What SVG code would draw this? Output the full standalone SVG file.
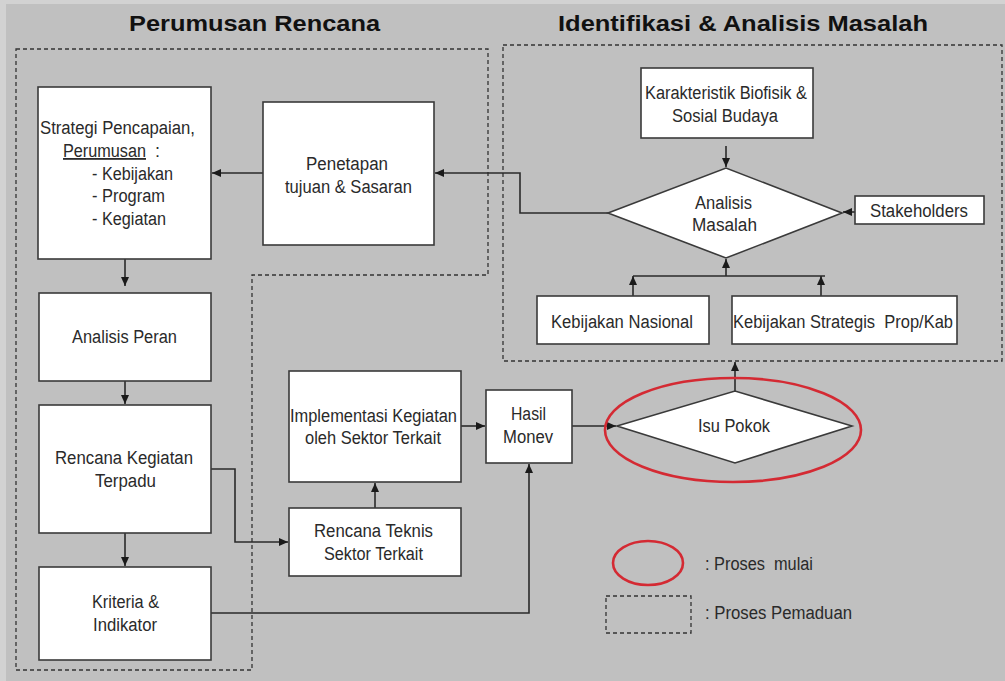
<svg xmlns="http://www.w3.org/2000/svg" width="1005" height="681" viewBox="0 0 1005 681">
<defs>
<style>
.box{fill:#fff;stroke:#3a3a3a;stroke-width:1.6}
.dash{fill:none;stroke:#333;stroke-width:1.3;stroke-dasharray:4 3}
.ln{fill:none;stroke:#2a2a2a;stroke-width:1.6}
.t{font-family:"Liberation Sans",Arial,sans-serif;font-size:18px;fill:#2a2a2a;white-space:pre}
.h{font-family:"Liberation Sans",Arial,sans-serif;font-size:22px;font-weight:bold;fill:#111}
.red{fill:none;stroke:#d42a33;stroke-width:2.6}
</style>
<marker id="ar" markerUnits="userSpaceOnUse" markerWidth="9" markerHeight="8" refX="9" refY="4" orient="auto">
<path d="M0,0 L9,4 L0,8 z" fill="#1a1a1a"/>
</marker>
</defs>
<rect x="0" y="0" width="1005" height="681" fill="#d2d2d2"/>
<rect x="6" y="4" width="999" height="677" fill="#c0c0c0"/>

<g id="titles">
<text class="h" x="129" y="31" textLength="251" lengthAdjust="spacingAndGlyphs">Perumusan Rencana</text>
<text class="h" x="558" y="31" textLength="370" lengthAdjust="spacingAndGlyphs">Identifikasi &amp; Analisis Masalah</text>
</g>

<g id="regions">
<path class="dash" d="M16,49 H488 V275 H252 V670 H16 Z"/>
<rect class="dash" x="503" y="45" width="499" height="316"/>
</g>

<g id="connectors">
<path class="ln" d="M263,173 H212" marker-end="url(#ar)"/>
<path class="ln" d="M608,213 H520 V173 H435" marker-end="url(#ar)"/>
<path class="ln" d="M726,146 V167" marker-end="url(#ar)"/>
<path class="ln" d="M855,212 H843" marker-end="url(#ar)"/>
<path class="ln" d="M633,276 H825"/>
<path class="ln" d="M633,296 V276" marker-end="url(#ar)"/>
<path class="ln" d="M821,296 V276" marker-end="url(#ar)"/>
<path class="ln" d="M726,276 V259" marker-end="url(#ar)"/>
<path class="ln" d="M735,391 V362" marker-end="url(#ar)"/>
<path class="ln" d="M572,426 H616" marker-end="url(#ar)"/>
<path class="ln" d="M461,426 H485" marker-end="url(#ar)"/>
<path class="ln" d="M375,508 V483" marker-end="url(#ar)"/>
<path class="ln" d="M211,469 H235 V542 H288" marker-end="url(#ar)"/>
<path class="ln" d="M211,613 H529 V464" marker-end="url(#ar)"/>
<path class="ln" d="M125,259 V286" marker-end="url(#ar)"/>
<path class="ln" d="M125,381 V404" marker-end="url(#ar)"/>
<path class="ln" d="M125,533 V566" marker-end="url(#ar)"/>
</g>

<g id="strategi">
<rect class="box" x="38" y="87" width="173" height="172"/>
<text class="t" x="40" y="134" textLength="155" lengthAdjust="spacingAndGlyphs">Strategi Pencapaian,</text>
<text class="t" x="63" y="157" textLength="83" lengthAdjust="spacingAndGlyphs" text-decoration="underline">Perumusan</text>
<text class="t" x="155" y="157">:</text>
<text class="t" x="92" y="180" textLength="81" lengthAdjust="spacingAndGlyphs">- Kebijakan</text>
<text class="t" x="92" y="202" textLength="73" lengthAdjust="spacingAndGlyphs">- Program</text>
<text class="t" x="92" y="225" textLength="74" lengthAdjust="spacingAndGlyphs">- Kegiatan</text>
</g>

<g id="penetapan">
<rect class="box" x="263" y="102" width="171" height="143"/>
<text class="t" x="306" y="170" textLength="82" lengthAdjust="spacingAndGlyphs">Penetapan</text>
<text class="t" x="285" y="193" textLength="127" lengthAdjust="spacingAndGlyphs">tujuan &amp; Sasaran</text>
</g>

<g id="karakteristik">
<rect class="box" x="641" y="68" width="172" height="70"/>
<text class="t" x="645" y="99" textLength="162" lengthAdjust="spacingAndGlyphs">Karakteristik Biofisik &amp;</text>
<text class="t" x="672" y="122" textLength="106" lengthAdjust="spacingAndGlyphs">Sosial Budaya</text>
</g>

<g id="analisis-masalah">
<polygon class="box" points="608,213 726,168 842,213 726,258"/>
<text class="t" x="695" y="209" textLength="57" lengthAdjust="spacingAndGlyphs">Analisis</text>
<text class="t" x="692" y="231" textLength="65" lengthAdjust="spacingAndGlyphs">Masalah</text>
</g>

<g id="stakeholders">
<rect class="box" x="855" y="196" width="129" height="28"/>
<text class="t" x="870" y="217" textLength="98" lengthAdjust="spacingAndGlyphs">Stakeholders</text>
</g>

<g id="kebijakan-nasional">
<rect class="box" x="537" y="296" width="172" height="48"/>
<text class="t" x="551" y="328" textLength="142" lengthAdjust="spacingAndGlyphs">Kebijakan Nasional</text>
</g>

<g id="kebijakan-strategis">
<rect class="box" x="732" y="296" width="225" height="48"/>
<text class="t" x="733" y="328" textLength="220" lengthAdjust="spacingAndGlyphs">Kebijakan Strategis  Prop/Kab</text>
</g>

<g id="analisis-peran">
<rect class="box" x="39" y="293" width="172" height="88"/>
<text class="t" x="72" y="343" textLength="105" lengthAdjust="spacingAndGlyphs">Analisis Peran</text>
</g>

<g id="rencana-kegiatan">
<rect class="box" x="39" y="405" width="172" height="128"/>
<text class="t" x="55" y="464" textLength="138" lengthAdjust="spacingAndGlyphs">Rencana Kegiatan</text>
<text class="t" x="95" y="487" textLength="61" lengthAdjust="spacingAndGlyphs">Terpadu</text>
</g>

<g id="kriteria">
<rect class="box" x="39" y="567" width="172" height="93"/>
<text class="t" x="92" y="608" textLength="67" lengthAdjust="spacingAndGlyphs">Kriteria &amp;</text>
<text class="t" x="93" y="631" textLength="64" lengthAdjust="spacingAndGlyphs">Indikator</text>
</g>

<g id="implementasi">
<rect class="box" x="289" y="371" width="172" height="111"/>
<text class="t" x="290" y="422" textLength="167" lengthAdjust="spacingAndGlyphs">Implementasi Kegiatan</text>
<text class="t" x="305" y="444" textLength="136" lengthAdjust="spacingAndGlyphs">oleh Sektor Terkait</text>
</g>

<g id="rencana-teknis">
<rect class="box" x="289" y="508" width="172" height="68"/>
<text class="t" x="314" y="537" textLength="119" lengthAdjust="spacingAndGlyphs">Rencana Teknis</text>
<text class="t" x="324" y="560" textLength="99" lengthAdjust="spacingAndGlyphs">Sektor Terkait</text>
</g>

<g id="hasil-monev">
<rect class="box" x="486" y="390" width="86" height="73"/>
<text class="t" x="511" y="420" textLength="35" lengthAdjust="spacingAndGlyphs">Hasil</text>
<text class="t" x="503" y="443" textLength="50" lengthAdjust="spacingAndGlyphs">Monev</text>
</g>

<g id="isu-pokok">
<polygon class="box" points="617,426 735,391 852,426 735,463"/>
<text class="t" x="698" y="432" textLength="72" lengthAdjust="spacingAndGlyphs">Isu Pokok</text>
<ellipse class="red" cx="733" cy="430" rx="128" ry="52"/>
</g>

<g id="legend">
<ellipse class="red" cx="648" cy="563" rx="35" ry="22"/>
<text class="t" x="705" y="570" textLength="108" lengthAdjust="spacingAndGlyphs">: Proses  mulai</text>
<rect class="dash" x="606" y="596" width="85" height="37"/>
<text class="t" x="705" y="619" textLength="147" lengthAdjust="spacingAndGlyphs">: Proses Pemaduan</text>
</g>
</svg>
